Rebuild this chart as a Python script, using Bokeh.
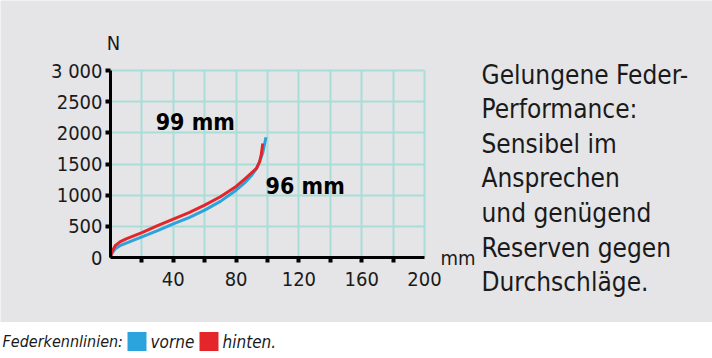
from bokeh.plotting import figure
from bokeh.layouts import column
from bokeh.models import Range1d, FixedTicker, Label, LinearAxis
from bokeh.embed import file_html
from bokeh.resources import INLINE

# ---- data ----
vorne_travel = [0, 1, 3, 6, 10, 20, 30, 40, 50, 60, 70, 80, 86, 90, 93, 95, 97, 98, 99]
vorne_force = [0, 70, 140, 190, 230, 330, 430, 540, 640, 760, 900, 1080, 1210, 1320, 1430, 1540, 1680, 1800, 1930]
hinten_travel = [0, 1, 3, 6, 10, 20, 30, 40, 50, 60, 70, 80, 86, 90, 93, 95, 96, 97]
hinten_force = [0, 100, 190, 250, 300, 400, 510, 615, 720, 840, 975, 1140, 1270, 1360, 1430, 1540, 1650, 1830]

x_label_ticks = [40, 80, 120, 160, 200]
x_mark_ticks = [20, 40, 60, 80, 100, 120, 140, 160, 180]
x_grid_ticks = [20, 40, 60, 80, 100, 120, 140, 160, 180, 200]
y_ticks = [0, 500, 1000, 1500, 2000, 2500, 3000]
y_tick_labels = ["0", "500", "1000", "1500", "2000", "2500", "3 000"]
x_unit = "mm"
y_unit = "N"

travel_labels = ["99 mm", "96 mm"]
travel_label_x = [54, 124]
travel_label_y = [2170, 1140]

side_text = ["Gelungene Feder-", "Performance:", "Sensibel im", "Ansprechen",
             "und genügend", "Reserven gegen", "Durchschläge."]
legend_title = "Federkennlinien:"
series_names = ["vorne", "hinten."]

# ---- styles / layout ----
BG = "#e5e5e7"
BLUE = "#2ba3dc"
RED = "#e4262b"
INK = "#1a1a1a"
GRID = "#a9ddd8"
FONT = "DejaVu Sans Condensed"

TOTAL_W, TOP_H, STRIP_H = 712, 322, 36
X0_PX, PX_PER_MM = 110, 1.57          # pixel of 0 mm, pixels per mm
Y0_PX, PX_PER_N = 257, 187 / 3000     # pixel of 0 N, pixels per N


def dx(px):
    return (px - X0_PX) / PX_PER_MM


def dy(py):
    return (Y0_PX - py) / PX_PER_N


p = figure(width=TOTAL_W, height=TOP_H, output_backend="svg", toolbar_location=None,
           x_range=Range1d(dx(0), dx(TOTAL_W)), y_range=Range1d(dy(TOP_H), dy(0)),
           x_axis_location=None, y_axis_location=None,
           min_border_left=0, min_border_right=0, min_border_top=0, min_border_bottom=0)
p.background_fill_color = BG
p.border_fill_color = BG
p.outline_line_color = None

p.xgrid.ticker = FixedTicker(ticks=x_grid_ticks)
p.xgrid.cross_bounds = (0, y_ticks[-1])
p.ygrid.ticker = FixedTicker(ticks=y_ticks[1:])
p.ygrid.cross_bounds = (0, x_grid_ticks[-1])
for g in (p.xgrid, p.ygrid):
    g.grid_line_color = GRID
    g.grid_line_width = 2

xa = LinearAxis(fixed_location=0, bounds=(0, x_grid_ticks[-1]),
                ticker=FixedTicker(ticks=x_label_ticks, minor_ticks=x_mark_ticks))
ya = LinearAxis(fixed_location=0, bounds=(0, y_ticks[-1]),
                ticker=FixedTicker(ticks=y_ticks, minor_ticks=y_ticks[1:]))
ya.major_label_overrides = {t: l for t, l in zip(y_ticks, y_tick_labels)}
for ax in (xa, ya):
    ax.axis_line_color = "black"
    ax.axis_line_width = 3
    ax.major_tick_out = 0
    ax.major_tick_in = 0
    ax.minor_tick_in = 0
    ax.minor_tick_out = 5
    ax.minor_tick_line_width = 4
    ax.minor_tick_line_color = "black"
    ax.major_label_text_font = FONT
    ax.major_label_text_font_size = "20px"
    ax.major_label_text_color = INK
xa.major_label_standoff = 9
ya.major_label_standoff = 3
p.add_layout(xa, "below")
p.add_layout(ya, "left")

p.line(vorne_travel, vorne_force, line_color=BLUE, line_width=3, line_join="round")
p.line(hinten_travel, hinten_force, line_color=RED, line_width=3, line_join="round")

for t, x, y in zip(travel_labels, travel_label_x, travel_label_y):
    p.add_layout(Label(x=x, y=y, text=t, text_align="center", text_baseline="middle",
                       text_font=FONT, text_font_style="bold", text_font_size="23px",
                       text_color="black"))

# unit labels
p.add_layout(Label(x=0, y=dy(42), x_offset=3, text=y_unit, text_align="center",
                   text_baseline="middle", text_font=FONT, text_font_size="20px", text_color=INK))
p.add_layout(Label(x=x_grid_ticks[-1], y=0, x_offset=16, text=x_unit, text_align="left",
                   text_baseline="alphabetic", text_font=FONT, text_font_size="20px",
                   text_color=INK))

# side text
first_baseline, line_step = 74, 34.6
for i, line in enumerate(side_text):
    p.add_layout(Label(x=dx(481), y=dy(first_baseline + line_step * i), text=line,
                       text_align="left", text_baseline="alphabetic", text_font=FONT,
                       text_font_size="26px", text_color=INK))

# ---- legend strip ----
p2 = figure(width=TOTAL_W, height=STRIP_H, output_backend="svg", toolbar_location=None,
            x_range=Range1d(0, TOTAL_W), y_range=Range1d(0, STRIP_H),
            x_axis_location=None, y_axis_location=None,
            min_border_left=0, min_border_right=0, min_border_top=0, min_border_bottom=0)
p2.background_fill_color = "white"
p2.border_fill_color = "white"
p2.outline_line_color = None
p2.grid.visible = False

swatch_left = [127, 199]
swatch_size = 19
label_left = [150, 222]
mid = 17
p2.add_layout(Label(x=2, y=mid, text=legend_title, text_align="left", text_baseline="middle",
                    text_font=FONT, text_font_style="italic", text_font_size="16px", text_color=INK))
for name, color, sl, ll in zip(series_names, [BLUE, RED], swatch_left, label_left):
    p2.quad(left=[sl], right=[sl + swatch_size], bottom=[mid - swatch_size / 2],
            top=[mid + swatch_size / 2], fill_color=color, line_color=None)
    p2.add_layout(Label(x=ll, y=mid, text=name, text_align="left", text_baseline="middle",
                        text_font=FONT, text_font_style="italic", text_font_size="17px",
                        text_color=INK))

layout = column(p, p2, spacing=0)
open("out.html", "w").write(file_html(layout, INLINE))
